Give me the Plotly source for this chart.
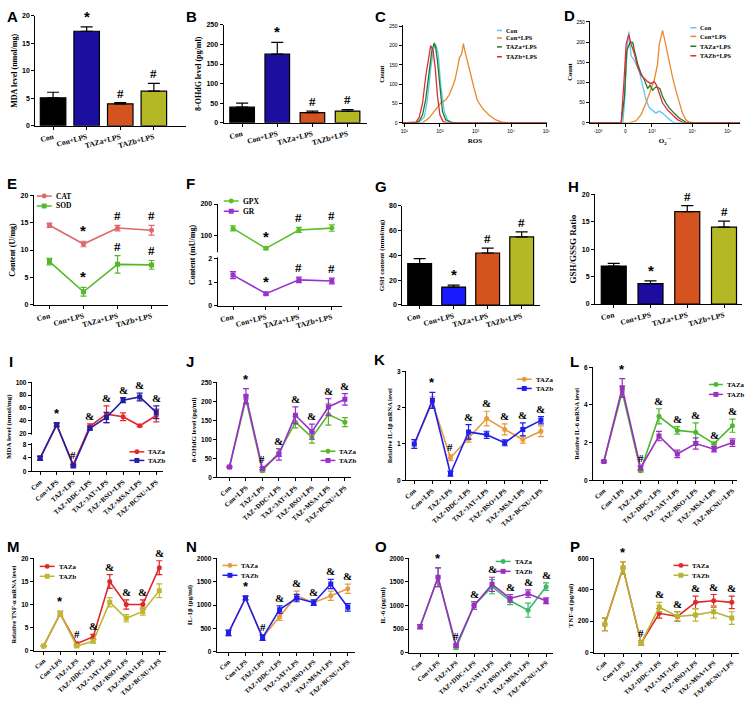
import plotly.graph_objects as go

W, H = 747, 708
SERIF = "Liberation Serif"
SANS = "Liberation Sans"

# ---------------- data ----------------
cats4 = ["Con", "Con+LPS", "TAZa+LPS", "TAZb+LPS"]
cats8 = ["Con", "Con+LPS", "TAZ+LPS", "TAZ+DDC+LPS", "TAZ+3AT+LPS",
         "TAZ+BSO+LPS", "TAZ+MSA+LPS", "TAZ+BCNU+LPS"]
sig4 = ["", "*", "#", "#"]
sig8 = ["", "*", "#", "&", "&", "&", "&", "&"]

A_mda = [5.1, 17.2, 4.0, 6.3]
A_err = [1.0, 0.8, 0.2, 1.4]
B_ohdg = [40, 175, 26, 30]
B_err = [10, 30, 4, 4]
G_gsh = [33.5, 14.5, 42.0, 55.0]
G_err = [4.0, 1.5, 4.0, 4.0]
H_ratio = [6.9, 3.7, 16.8, 14.0]
H_err = [0.5, 0.5, 1.1, 1.1]

E_cat = [14.5, 11.1, 14.0, 13.6]
E_cat_err = [0.4, 0.5, 0.5, 0.9]
E_sod = [7.9, 2.4, 7.4, 7.3]
E_sod_err = [0.6, 0.8, 1.6, 0.8]

F_gpx = [123, 60, 118, 124]
F_gpx_err = [8, 4, 8, 10]
F_gr = [1.3, 0.52, 1.1, 1.05]
F_gr_err = [0.15, 0.05, 0.12, 0.12]

# flow cytometry histograms (x in log-decade position, y = count)
C_ticks = ["10¹", "10²", "10³", "10⁴", "10⁵"]
D_ticks = ["-10³", "0", "10³", "10⁴", "10⁵"]
C_con_x = [0.95, 1.42, 1.56, 1.65, 1.74, 1.82, 1.88, 1.95, 2.02, 2.12, 2.21, 2.35, 5.02]
C_con_y = [0, 2, 15, 60, 140, 190, 203, 180, 100, 30, 8, 0, 0]
C_lps_x = [0.95, 1.51, 1.70, 1.88, 2.02, 2.16, 2.26, 2.35, 2.42, 2.49, 2.55, 2.61, 2.66,
           2.70, 2.77, 2.86, 2.95, 3.05, 3.19, 3.37, 3.56, 3.74, 3.93, 5.02]
C_lps_y = [0, 0, 13, 34, 51, 59, 72, 93, 110, 140, 169, 178, 205,
           186, 157, 127, 93, 59, 38, 21, 8, 2, 0, 0]
C_taza_x = [0.95, 1.33, 1.42, 1.51, 1.60, 1.70, 1.77, 1.84, 1.88, 1.93, 2.00, 2.07, 2.16, 2.30, 2.45, 5.02]
C_taza_y = [0, 0, 5, 20, 60, 130, 185, 207, 195, 160, 90, 30, 8, 2, 0, 0]
C_tazb_x = [0.95, 1.33, 1.42, 1.51, 1.60, 1.70, 1.74, 1.81, 1.87, 1.93, 2.00, 2.09, 2.21, 5.02]
C_tazb_y = [0, 2, 15, 50, 120, 180, 200, 185, 140, 70, 20, 3, 0, 0]

D_con_x = [1.1, 2.10, 2.15, 2.22, 2.28, 2.35, 2.42, 2.50, 2.60, 2.70, 2.80, 2.90, 3.00,
           3.10, 3.20, 3.30, 3.40, 3.50, 3.60, 3.70, 5.65]
D_con_y = [0, 0, 49, 171, 226, 166, 158, 146, 126, 93, 57, 37, 31, 24, 29, 24, 16, 8, 2, 0, 0]
D_lps_x = [1.1, 2.30, 2.50, 2.65, 2.80, 2.95, 3.05, 3.15, 3.20, 3.25, 3.30, 3.35, 3.40,
           3.50, 3.60, 3.70, 3.80, 3.90, 4.00, 4.10, 4.25, 5.65]
D_lps_y = [0, 0, 5, 20, 49, 81, 106, 146, 195, 211, 229, 211, 191, 150, 114, 81, 49, 24, 8, 2, 0, 0]
D_taza_x = [1.1, 2.05, 2.15, 2.22, 2.32, 2.40, 2.45, 2.55, 2.65, 2.75, 2.85, 2.92, 3.00,
            3.10, 3.22, 3.30, 3.40, 3.50, 3.65, 3.80, 4.00, 4.10, 5.65]
D_taza_y = [0, 0, 65, 179, 199, 199, 179, 146, 122, 106, 85, 93, 81, 89, 85, 65, 49, 37, 24, 12, 2, 0, 0]
D_tazb_x = [1.1, 2.05, 2.13, 2.20, 2.28, 2.35, 2.45, 2.55, 2.65, 2.75, 2.85, 2.95, 3.05,
            3.12, 3.20, 3.30, 3.45, 3.60, 3.75, 3.90, 4.00, 5.65]
D_tazb_y = [0, 0, 97, 195, 219, 195, 171, 138, 118, 110, 102, 97, 102, 93, 73, 49, 32, 20, 8, 2, 0, 0]

I_a = [4.0, 33, 2.0, 31, 50, 46, 32, 48]
I_a_err = [0.6, 3, 0.4, 4, 13, 6, 1.5, 10]
I_b = [3.8, 34, 1.6, 28, 45, 72, 77, 53]
I_b_err = [0.6, 3, 0.4, 3, 8, 4, 6, 10]

J_a = [27, 205, 17, 65, 145, 105, 165, 145]
J_a_err = [2, 10, 3, 10, 15, 15, 28, 12]
J_b = [27, 213, 23, 60, 163, 120, 185, 205]
J_b_err = [2, 20, 3, 15, 22, 20, 22, 15]

K_a = [1.0, 2.15, 0.62, 1.15, 1.7, 1.4, 1.12, 1.35]
K_a_err = [0.12, 0.15, 0.08, 0.1, 0.2, 0.15, 0.1, 0.15]
K_b = [1.0, 2.2, 0.18, 1.33, 1.25, 1.03, 1.4, 1.65]
K_b_err = [0.12, 0.22, 0.07, 0.2, 0.1, 0.08, 0.18, 0.1]

L_a = [1.0, 4.7, 0.5, 3.4, 2.65, 2.55, 1.95, 2.9]
L_a_err = [0.05, 0.3, 0.05, 0.4, 0.2, 0.5, 0.05, 0.35]
L_b = [1.0, 4.9, 0.65, 2.35, 1.4, 1.95, 1.65, 2.0]
L_b_err = [0.05, 0.5, 0.1, 0.25, 0.2, 0.3, 0.15, 0.2]

M_a = [1.0, 8.0, 1.5, 3.0, 15.0, 10.0, 10.0, 18.0]
M_a_err = [0.1, 0.5, 0.3, 0.5, 1.5, 1.0, 1.0, 1.5]
M_b = [1.0, 8.0, 1.0, 2.0, 10.5, 7.0, 8.5, 13.0]
M_b_err = [0.1, 0.5, 0.2, 0.4, 1.0, 0.8, 0.8, 1.5]

N_a = [400, 1150, 300, 750, 1200, 1050, 1200, 1350]
N_a_err = [60, 40, 60, 80, 100, 60, 100, 100]
N_b = [400, 1150, 300, 900, 1150, 1050, 1450, 950]
N_b_err = [60, 40, 60, 80, 80, 60, 100, 80]

O_a = [550, 1600, 100, 1000, 1400, 1100, 900, 1400]
O_a_err = [40, 200, 30, 80, 150, 80, 150, 80]
O_b = [550, 1600, 150, 1000, 1450, 1150, 1250, 1100]
O_b_err = [40, 200, 30, 80, 150, 80, 80, 60]

P_a = [180, 540, 60, 250, 230, 320, 330, 320]
P_a_err = [40, 40, 15, 30, 30, 40, 40, 40]
P_b = [180, 540, 60, 290, 230, 240, 260, 220]
P_b_err = [40, 40, 15, 30, 30, 40, 40, 40]

# ---------------- helpers ----------------
fig = go.Figure()
axes = {}
annotations = []
shapes = []
count = [0]

BASE = dict(showline=True, linecolor="black", linewidth=1, ticks="outside", ticklen=3,
            tickwidth=1, tickcolor="black", showgrid=False, zeroline=False, fixedrange=True)


def panel(rect, xr, yr, xextra, yextra):
    count[0] += 1
    i = count[0]
    sx = "" if i == 1 else str(i)
    x0, x1, yt, yb = rect
    xa = dict(BASE)
    xa.update(domain=[x0 / W, x1 / W], range=xr, anchor="y" + sx)
    xa.update(xextra)
    ya = dict(BASE)
    ya.update(domain=[1 - yb / H, 1 - yt / H], range=yr, anchor="x" + sx)
    ya.update(yextra)
    axes["xaxis" + sx] = xa
    axes["yaxis" + sx] = ya
    return "x" + sx, "y" + sx


def catx(cats, angle, size=7.5):
    return dict(type="category", tickangle=angle, categoryorder="array", categoryarray=cats,
                tickfont=dict(family=SERIF, size=size, color="black", weight="bold"))


def ycfg(title, tsize=8, tickvals=None, ticktext=None, dtick=None, fsize=7):
    d = dict(tickfont=dict(family=SANS, size=fsize, color="black", weight="bold"),
             title=dict(text=title, font=dict(family=SERIF, size=tsize, color="black", weight="bold"),
                        standoff=3))
    if tickvals is not None:
        d.update(tickmode="array", tickvals=tickvals, ticktext=ticktext)
    if dtick is not None:
        d.update(dtick=dtick, tick0=0)
    return d


def marks(xref, yref, cats, tops, labels, size=12, yshift=0):
    for c, t, m in zip(cats, tops, labels):
        if not m:
            continue
        fam = SANS if m == "*" else SERIF
        sz = size + 2 if m == "*" else size
        annotations.append(dict(x=c, y=t, xref=xref, yref=yref, text=m, showarrow=False,
                                yanchor="bottom", yshift=yshift,
                                font=dict(family=fam, size=sz, color="black", weight="bold")))


def letter(text, x, y):
    annotations.append(dict(x=x / W, y=1 - y / H, xref="paper", yref="paper", text="<b>%s</b>" % text,
                            showarrow=False, xanchor="left", yanchor="top",
                            font=dict(family=SANS, size=15, color="black")))


def leg(x, y, color, text, symbol=None, line_len=15, size=7.5, lw=1.5):
    shapes.append(dict(type="line", xref="paper", yref="paper", x0=x / W, x1=(x + line_len) / W,
                       y0=1 - y / H, y1=1 - y / H, line=dict(color=color, width=lw)))
    cx = x + line_len / 2
    r = 2.5
    if symbol == "circle":
        shapes.append(dict(type="circle", xref="paper", yref="paper", x0=(cx - r) / W, x1=(cx + r) / W,
                           y0=1 - (y + r) / H, y1=1 - (y - r) / H, fillcolor=color, line=dict(width=0)))
    elif symbol == "square":
        shapes.append(dict(type="rect", xref="paper", yref="paper", x0=(cx - r) / W, x1=(cx + r) / W,
                           y0=1 - (y + r) / H, y1=1 - (y - r) / H, fillcolor=color, line=dict(width=0)))
    annotations.append(dict(x=(x + line_len + 2) / W, y=1 - y / H, xref="paper", yref="paper",
                            text=text, showarrow=False, xanchor="left", yanchor="middle",
                            font=dict(family=SERIF, size=size, color="black", weight="bold")))


def bar_panel(rect, xr, yr, dtick, vals, errs, colors, title, width, tsize=8, name=""):
    xref, yref = panel(rect, xr, yr, catx(cats4, -15), ycfg(title, tsize=tsize, dtick=dtick))
    fig.add_trace(go.Bar(x=cats4, y=vals, xaxis=xref, yaxis=yref, width=width, name=name,
                         marker=dict(color=colors, line=dict(color="black", width=1.2)),
                         error_y=dict(type="data", array=errs, arrayminus=[0] * len(errs), symmetric=False,
                                      color="black", thickness=1.2, width=6)))
    marks(xref, yref, cats4, [v + e for v, e in zip(vals, errs)], sig4, size=13)
    return xref, yref


def series(xref, yref, cats, vals, errs, color, symbol, name, tf=None):
    f = tf if tf else (lambda v: v)
    yv = [f(v) for v in vals]
    up = [f(v + e) - f(v) for v, e in zip(vals, errs)]
    dn = [f(v) - f(v - e) for v, e in zip(vals, errs)]
    fig.add_trace(go.Scatter(x=cats, y=yv, xaxis=xref, yaxis=yref, mode="lines+markers", name=name,
                             line=dict(color=color, width=1.6),
                             marker=dict(color=color, size=5, symbol=symbol),
                             error_y=dict(type="data", array=up, arrayminus=dn, symmetric=False,
                                          color=color, thickness=1.2, width=3)))


def line8_panel(rect, xr, yr, yc, a, ea, b, eb, ca, cb, tf=None, angle=-42, msize=11, csize=6.8):
    xref, yref = panel(rect, xr, yr, catx(cats8, angle, size=csize), yc)
    series(xref, yref, cats8, a, ea, ca, "circle", "TAZa", tf)
    series(xref, yref, cats8, b, eb, cb, "square", "TAZb", tf)
    f = tf if tf else (lambda v: v)
    tops = [f(max(p + q, r + s)) for p, q, r, s in zip(a, ea, b, eb)]
    marks(xref, yref, cats8, tops, sig8, size=msize)
    return xref, yref


# colours
BLACK = "#000000"
ORANGE_BAR = "#d4531e"
OLIVE_BAR = "#b4b824"

# ---------------- row 1 ----------------
bar_panel((33.5, 185, 12, 123), [-0.53, 3.95], [0, 20], 5, A_mda, A_err,
          [BLACK, "#1c0fa0", ORANGE_BAR, OLIVE_BAR], "MDA level (nmol/mg)", 0.76, name="MDA")
bar_panel((223, 367, 21, 120), [-0.53, 3.54], [0, 250], 50, B_ohdg, B_err,
          [BLACK, "#1c0fa0", ORANGE_BAR, OLIVE_BAR], "8-OHdG level (pg/ml)", 0.70, name="8-OHdG")

flow_cols = {"Con": "#5bc8f5", "Con+LPS": "#e8892a", "TAZa+LPS": "#1f7a1f", "TAZb+LPS": "#e02a3a"}


def flow_panel(rect, xr, xt, xtt, xtitle, data):
    xc = dict(tickmode="array", tickvals=xt, ticktext=xtt, tickangle=0,
              tickfont=dict(family=SANS, size=5, color="black"),
              title=dict(text=xtitle, font=dict(family=SERIF, size=7, color="black", weight="bold"), standoff=5))
    yc = dict(tickmode="array", tickvals=[0, 50, 100, 150, 200, 250],
              ticktext=["0", "50", "100", "150", "200", "250"], tickangle=0,
              tickfont=dict(family=SANS, size=5, color="black"),
              title=dict(text="Count", font=dict(family=SERIF, size=6.5, color="black", weight="bold"), standoff=3))
    xref, yref = panel(rect, xr, [0, 252], xc, yc)
    for name, xs, ys in data:
        fig.add_trace(go.Scatter(x=xs, y=ys, xaxis=xref, yaxis=yref, mode="lines", name=name,
                                 line=dict(color=flow_cols[name], width=1.3)))


flow_panel((403.3, 549, 21.7, 120), [0.95, 5.02], [1, 2, 3, 4, 5], C_ticks, "ROS",
           [("Con", C_con_x, C_con_y), ("Con+LPS", C_lps_x, C_lps_y),
            ("TAZa+LPS", C_taza_x, C_taza_y), ("TAZb+LPS", C_tazb_x, C_tazb_y)])
flow_panel((591.7, 743.3, 17.3, 120), [1.1, 5.65], [1.35, 2.18, 2.98, 4.20, 5.28], D_ticks,
           "O<sub>2</sub><sup>·−</sup>",
           [("Con", D_con_x, D_con_y), ("Con+LPS", D_lps_x, D_lps_y),
            ("TAZa+LPS", D_taza_x, D_taza_y), ("TAZb+LPS", D_tazb_x, D_tazb_y)])

# ---------------- row 2 ----------------
xE, yE = panel((32, 167, 193, 304), [-0.46, 3.48], [0, 20], catx(cats4, -15),
               ycfg("Content (U/mg)", dtick=5))
series(xE, yE, cats4, E_cat, E_cat_err, "#e06868", "circle", "CAT")
series(xE, yE, cats4, E_sod, E_sod_err, "#55b82b", "square", "SOD")
marks(xE, yE, cats4, [v + e for v, e in zip(E_cat, E_cat_err)], sig4, size=13)
marks(xE, yE, cats4, [v + e for v, e in zip(E_sod, E_sod_err)], sig4, size=13)

F_GAP = 2 + 7 / 24.0


def tF(v):
    return v if v <= 2.5 else F_GAP + (v - 50) / 75.0


xF, yF = panel((217, 342, 202, 305), [-0.47, 3.3], [0, tF(200)], catx(cats4, -15),
               ycfg("Content (mU/mg)", tickvals=[tF(v) for v in [0, 1, 2, 100, 200]],
                    ticktext=["0", "1", "2", "100", "200"]))
series(xF, yF, cats4, F_gpx, F_gpx_err, "#5cbf2a", "circle", "GPX", tF)
series(xF, yF, cats4, F_gr, F_gr_err, "#9a30d0", "square", "GR", tF)
marks(xF, yF, cats4, [tF(v + e) for v, e in zip(F_gpx, F_gpx_err)], sig4, size=13)
marks(xF, yF, cats4, [tF(v + e) for v, e in zip(F_gr, F_gr_err)], sig4, size=13)
shapes.append(dict(type="rect", xref="paper", yref=yF, x0=214 / W, x1=220 / W, y0=2.05, y1=F_GAP - 0.03,
                   fillcolor="white", line=dict(width=0), layer="above"))

bar_panel((403, 542, 204, 304), [-0.51, 3.55], [0, 80], 20, G_gsh, G_err,
          [BLACK, "#1a1aff", ORANGE_BAR, OLIVE_BAR], "GSH content (nmol/mg)", 0.70, tsize=7, name="GSH")
bar_panel((597, 745, 192, 303), [-0.51, 3.49], [0, 20], 5, H_ratio, H_err,
          [BLACK, "#1c0ca0", ORANGE_BAR, OLIVE_BAR], "GSH/GSSG Ratio", 0.68, tsize=9, name="GSH/GSSG")

# ---------------- row 3 ----------------
I_GAP = 11.2


def tI(v):
    return v if v <= 10 else I_GAP + (v - 20) * 0.189


xI, yI = line8_panel((30, 162, 382, 472), [-0.5, 7.4], [0, tI(100)],
                     ycfg("MDA level (nmol/mg)", tsize=7,
                          tickvals=[tI(v) for v in [0, 4, 8, 20, 40, 60, 80, 100]],
                          ticktext=["0", "4", "8", "20", "40", "60", "80", "100"], fsize=6.5),
                     I_a, I_a_err, I_b, I_b_err, "#e8262a", "#1f1fa8", tf=tI)
shapes.append(dict(type="rect", xref="paper", yref=yI, x0=27 / W, x1=33 / W, y0=8.4, y1=I_GAP - 0.4,
                   fillcolor="white", line=dict(width=0), layer="above"))

line8_panel((216.7, 351.7, 382, 478), [-0.74, 7.39], [0, 250],
            ycfg("8-OHdG level (pg/ml)", tsize=7, dtick=50, fsize=6.5),
            J_a, J_a_err, J_b, J_b_err, "#5ab52a", "#9a2fd0")
line8_panel((406.7, 550, 371, 481), [-0.46, 7.41], [0, 3],
            ycfg("Relative IL-1β mRNA level", tsize=6.5, dtick=1, fsize=6.5),
            K_a, K_a_err, K_b, K_b_err, "#e89a3c", "#1e1ef0")
line8_panel((595, 740, 367, 481), [-0.59, 7.25], [0, 6],
            ycfg("Relative IL-6 mRNA level", tsize=6.5, dtick=2, fsize=6.5),
            L_a, L_a_err, L_b, L_b_err, "#4cb82a", "#9a2fc0")

# ---------------- row 4 ----------------
line8_panel((32, 165, 560, 653), [-0.6, 7.4], [0, 20],
            ycfg("Relative TNF-α mRNA level", tsize=6.5, dtick=5, fsize=6.5),
            M_a, M_a_err, M_b, M_b_err, "#e0282a", "#c0b832", csize=6.6)
line8_panel((216, 355, 560, 654), [-0.7, 7.4], [0, 2000],
            ycfg("IL-1β (pg/ml)", tsize=7, dtick=500, fsize=6.5),
            N_a, N_a_err, N_b, N_b_err, "#e89a3c", "#1e1ef0", csize=6.6)
line8_panel((410, 555, 560, 655), [-0.6, 7.4], [0, 2000],
            ycfg("IL-6 (pg/ml)", tsize=7, dtick=500, fsize=6.5),
            O_a, O_a_err, O_b, O_b_err, "#3cb86a", "#9a2fc0", csize=6.6)
line8_panel((596, 742, 560, 655), [-0.6, 7.4], [0, 600],
            ycfg("TNF-α (pg/ml)", tsize=7, dtick=200, fsize=6.5),
            P_a, P_a_err, P_b, P_b_err, "#e0282a", "#b8b432", csize=6.6)

# ---------------- legends (drawn) ----------------
for yy, nm in zip([26.7, 34.3, 43.3, 53.3], ["Con", "Con+LPS", "TAZa+LPS", "TAZb+LPS"]):
    leg(498.3, yy, flow_cols[nm], nm, None, line_len=5, size=6.3)
for yy, nm in zip([24, 32.7, 42.7, 52.3], ["Con", "Con+LPS", "TAZa+LPS", "TAZb+LPS"]):
    leg(693, yy, flow_cols[nm], nm, None, line_len=6, size=6.3)
leg(35, 194, "#e06868", "CAT", "circle")
leg(35, 204, "#55b82b", "SOD", "square")
leg(223.3, 199, "#5cbf2a", "GPX", "circle")
leg(223.3, 209.3, "#9a30d0", "GR", "square")
leg(128.3, 452.3, "#e8262a", "TAZa", "circle", size=6.8)
leg(128.3, 461, "#1f1fa8", "TAZb", "square", size=6.8)
leg(320.7, 451.7, "#5ab52a", "TAZa", "circle", size=6.8)
leg(320.7, 461, "#9a2fd0", "TAZb", "square", size=6.8)
leg(518.3, 379, "#e89a3c", "TAZa", "circle", size=6.8)
leg(518.3, 388.3, "#1e1ef0", "TAZb", "square", size=6.8)
leg(711.7, 384.3, "#4cb82a", "TAZa", "circle", line_len=14, size=6.8)
leg(711.7, 394.3, "#9a2fc0", "TAZb", "square", line_len=14, size=6.8)
leg(38, 568, "#e0282a", "TAZa", "circle", size=6.8)
leg(38, 578, "#c0b832", "TAZb", "square", size=6.8)
leg(222, 567, "#e89a3c", "TAZa", "circle", size=6.8)
leg(222, 577, "#1e1ef0", "TAZb", "square", size=6.8)
leg(497, 563, "#3cb86a", "TAZa", "circle", size=6.8)
leg(497, 573, "#9a2fc0", "TAZb", "square", size=6.8)
leg(676, 567, "#e0282a", "TAZa", "circle", size=6.8)
leg(676, 577, "#b8b432", "TAZb", "square", size=6.8)

# ---------------- panel letters ----------------
for t, x, y in [("A", 3, 2), ("B", 183, 2), ("C", 373, 2), ("D", 564, 1),
                ("E", 3, 171), ("F", 183, 171), ("G", 373, 174), ("H", 568, 174),
                ("I", 5, 350), ("J", 183, 350), ("K", 372, 348), ("L", 570, 350),
                ("M", 3, 537), ("N", 183, 537), ("O", 373, 537), ("P", 570, 537)]:
    letter(t, x, y)

fig.update_layout(width=W, height=H, margin=dict(l=0, r=0, t=0, b=0),
                  plot_bgcolor="white", paper_bgcolor="white", showlegend=False,
                  annotations=annotations, shapes=shapes, **axes)
fig.write_html("out.html", config={"displayModeBar": False},
               post_script="document.body.style.margin='0';")
